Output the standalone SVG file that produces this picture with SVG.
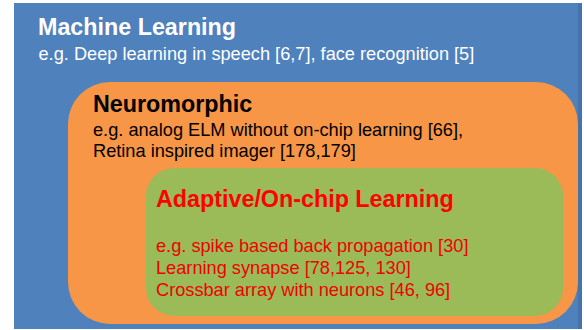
<svg xmlns="http://www.w3.org/2000/svg" width="584" height="330" viewBox="0 0 584 330">
<style>
  .t{font-family:"Liberation Sans",Arial,sans-serif;}
  .h{font-size:23.3px;font-weight:bold;}
  .b{font-size:18.2px;}
</style>
<rect x="0" y="0" width="584" height="330" fill="#ffffff"/>
<g id="machine-learning">
  <rect x="14" y="3" width="568" height="326" fill="#4F81BD"/>
  <rect x="578" y="3" width="4" height="326" fill="#3f6a9e" opacity="0.6"/>
  <text class="t h" x="38" y="35" fill="#ffffff">Machine Learning</text>
  <text class="t b" x="38.5" y="60" fill="#ffffff">e.g. Deep learning in speech [6,7], face recognition [5]</text>
</g>
<g id="neuromorphic">
  <rect x="68" y="82" width="510" height="242" rx="42" ry="42" fill="#F79646"/>
  <text class="t h" x="93" y="112" fill="#000000">Neuromorphic</text>
  <text class="t b" x="93" y="135.5" fill="#000000">e.g. analog ELM without on-chip learning [66],</text>
  <text class="t b" x="93" y="157" fill="#000000">Retina inspired imager [178,179]</text>
</g>
<g id="adaptive">
  <rect x="146" y="168" width="417" height="148" rx="28" ry="28" fill="#9BBB59"/>
  <text class="t h" x="156" y="207" fill="#FF0000">Adaptive/On-chip Learning</text>
  <text class="t b" x="156" y="252" fill="#F00000">e.g. spike based back propagation [30]</text>
  <text class="t b" x="156" y="274" fill="#F00000">Learning synapse [78,125, 130]</text>
  <text class="t b" x="156" y="296" fill="#F00000">Crossbar array with neurons [46, 96]</text>
</g>
<g id="connectors"></g>
</svg>
